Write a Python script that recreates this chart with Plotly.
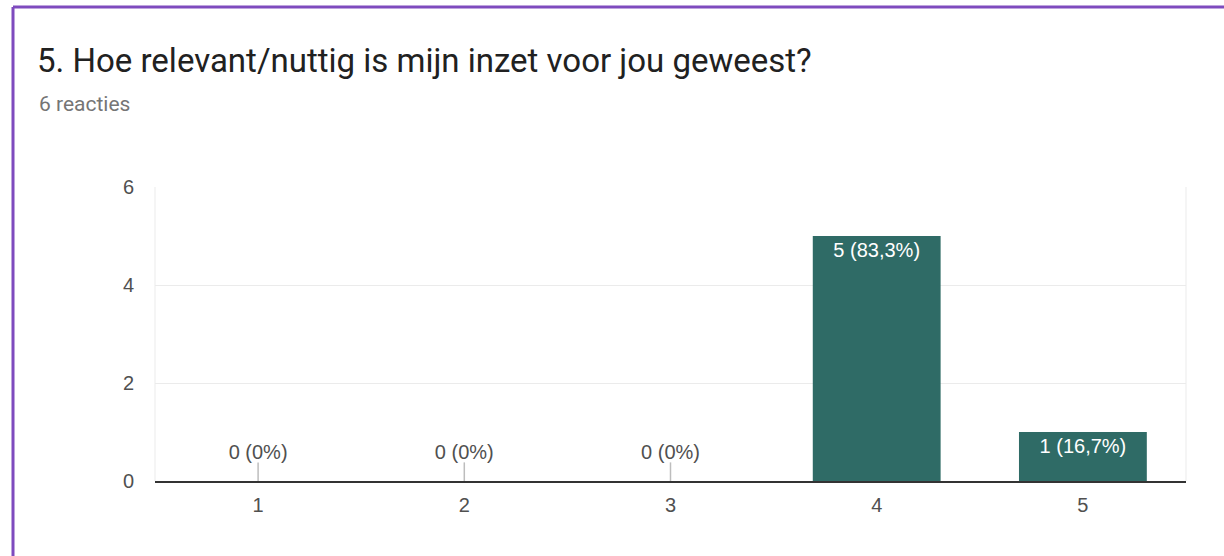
import plotly.graph_objects as go

categories = ["1", "2", "3", "4", "5"]
counts = [0, 0, 0, 5, 1]
total = 6
title_text = "5. Hoe relevant/nuttig is mijn inzet voor jou geweest?"
subtitle_text = "6 reacties"
y_ticks = [0, 2, 4, 6]

def fmt(c):
    p = c / total * 100
    if c == 0:
        return "0 (0%)"
    return f"{c} ({p:.1f}%)".replace(".", ",")

labels = [fmt(c) for c in counts]

W, H = 1224, 556
L, R, T, B = 155, 38, 187, 75
pw, ph = W - L - R, H - T - B

def px_x(x):
    return (x - L) / pw

def px_y(y):
    return (H - B - y) / ph

FONT = "Liberation Sans, Arial"
TXT = "#505050"
fig = go.Figure()

nz_x = [c for c, v in zip(categories, counts) if v > 0]
nz_y = [v for v in counts if v > 0]
nz_t = [t for t, v in zip(labels, counts) if v > 0]
fig.add_trace(go.Bar(
    x=nz_x, y=nz_y, text=nz_t, textposition="inside", insidetextanchor="end",
    textfont=dict(color="white", size=20, family=FONT),
    marker=dict(color="#2F6B66", line=dict(width=0)), width=0.62,
    hoverinfo="skip", showlegend=False,
))

zero_cats = [c for c, v in zip(categories, counts) if v == 0]
zero_labels = [t for t, v in zip(labels, counts) if v == 0]
for c in zero_cats:
    fig.add_trace(go.Scatter(
        x=[c, c], y=[0, 0.38], mode="lines",
        line=dict(color="#bdbdbd", width=1.5), hoverinfo="skip", showlegend=False,
    ))
fig.add_trace(go.Scatter(
    x=zero_cats, y=[0.35] * len(zero_cats), mode="text", text=zero_labels,
    textposition="top center",
    textfont=dict(color=TXT, size=20, family=FONT),
    hoverinfo="skip", showlegend=False,
))

fig.update_layout(
    width=W, height=H,
    margin=dict(l=L, r=R, t=T, b=B),
    paper_bgcolor="white", plot_bgcolor="white",
    xaxis=dict(
        type="category", categoryorder="array", categoryarray=categories,
        range=[-0.5, len(categories) - 0.5],
        showgrid=False, zeroline=False, showline=True, linecolor="#333333", linewidth=1.5,
        ticks="", tickfont=dict(size=20, color=TXT, family=FONT),
        ticklabelstandoff=5,
    ),
    yaxis=dict(
        range=[0, 6], tickvals=y_ticks, showgrid=True, gridcolor="#ebebeb", gridwidth=1,
        zeroline=False, showline=False,
        tickfont=dict(size=20, color=TXT, family=FONT),
        ticklabelstandoff=20,
    ),
    shapes=[
        dict(type="line", xref="paper", yref="paper", x0=px_x(13), x1=px_x(W + 5),
             y0=px_y(7), y1=px_y(7), line=dict(color="#7E4BBE", width=3)),
        dict(type="line", xref="paper", yref="paper", x0=px_x(13), x1=px_x(13),
             y0=px_y(7), y1=px_y(H + 5), line=dict(color="#7E4BBE", width=3)),
        dict(type="line", xref="paper", yref="paper", x0=1, x1=1, y0=0, y1=1,
             line=dict(color="#ebebeb", width=1)),
        dict(type="line", xref="paper", yref="paper", x0=0, x1=0, y0=0, y1=1,
             line=dict(color="#ebebeb", width=1)),
    ],
    annotations=[
        dict(text=title_text, xref="paper", yref="paper", x=px_x(35), y=px_y(61),
             xanchor="left", yanchor="middle", showarrow=False,
             font=dict(size=33, color="#212121", family="Roboto")),
        dict(text=subtitle_text, xref="paper", yref="paper", x=px_x(37), y=px_y(104),
             xanchor="left", yanchor="middle", showarrow=False,
             font=dict(size=21, color="#757575", family="Roboto")),
    ],
)

fig.write_html("out.html", config={"displayModeBar": False},
               post_script="document.body.style.margin='0';document.body.style.overflow='hidden';")
